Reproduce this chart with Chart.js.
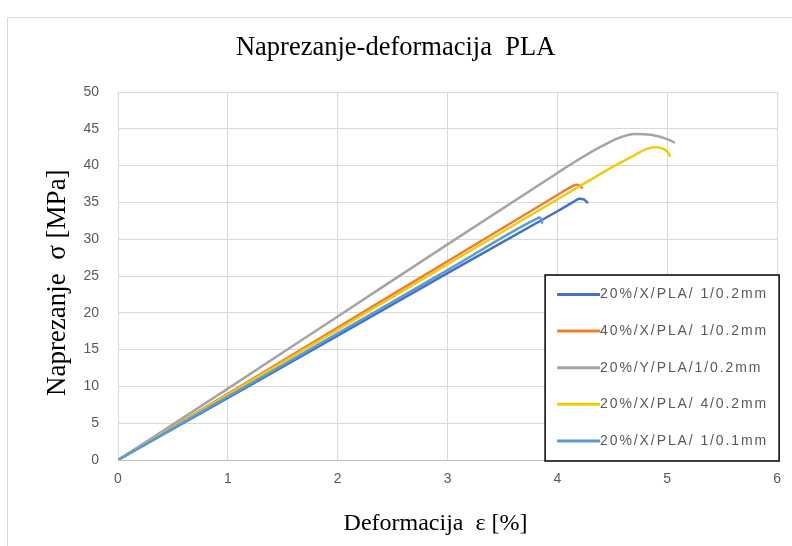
<!DOCTYPE html>
<html>
<head>
<meta charset="utf-8">
<script src="https://cdn.jsdelivr.net/npm/chart.js@4/dist/chart.umd.min.js"></script>
<style>
    html, body { margin: 0; padding: 0; background: #fff; }
    #wrap { position: relative; width: 792px; height: 546px; overflow: hidden; }
    #frame { position: absolute; left: 7px; top: 17px; width: 820px; height: 560px; border: 1px solid #d9d9d9; }
    #chart { position: absolute; left: 0; top: 0; }
</style>
</head>
<body>
<div id="wrap">
    <div id="frame"></div>
    <canvas id="chart" width="792" height="546"></canvas>
</div>
<script>
// 图例名称
const seriesLabels = [
    '20%/X/PLA/ 1/0.2mm',
    '40%/X/PLA/ 1/0.2mm',
    '20%/Y/PLA/1/0.2mm',
    '20%/X/PLA/ 4/0.2mm',
    '20%/X/PLA/ 1/0.1mm'
];
const seriesColors = ['#4472c4', '#ed7d31', '#a5a5a5', '#f2cc0c', '#5b9bd5'];

// 各曲线：应变 ε [%] 与应力 σ [MPa]
const strainX1_02 = [0, 1, 2, 3, 4, 4.15, 4.2, 4.24, 4.28];
const stressX1_02 = [0, 8.45, 16.9, 25.4, 33.8, 35.1, 35.5, 35.4, 34.9];

const strainX40 = [0, 1, 2, 3, 4, 4.1, 4.17, 4.2, 4.23];
const stressX40 = [0, 9.0, 18.0, 27.0, 36.0, 36.9, 37.4, 37.3, 36.9];

const strainY = [0, 1, 2, 3, 4, 4.2, 4.4, 4.55, 4.7, 4.85, 5.0, 5.07];
const stressY = [0, 9.7, 19.5, 29.3, 39.0, 40.9, 42.6, 43.7, 44.3, 44.2, 43.6, 43.1];

const strainX4 = [0, 1, 2, 3, 4, 4.5, 4.7, 4.82, 4.9, 4.96, 5.0, 5.03];
const stressX4 = [0, 8.85, 17.7, 26.6, 35.4, 39.8, 41.4, 42.3, 42.5, 42.3, 41.9, 41.2];

const strainX1_01 = [0, 1, 2, 3, 3.8, 3.84, 3.86, 3.86];
const stressX1_01 = [0, 8.6, 17.2, 25.8, 32.7, 32.95, 32.6, 32.1];

const xTicks = [0, 1, 2, 3, 4, 5, 6];
const yTicks = [0, 5, 10, 15, 20, 25, 30, 35, 40, 45, 50];

const curves = [
    [strainX1_02, stressX1_02],
    [strainX40, stressX40],
    [strainY, stressY],
    [strainX4, stressX4],
    [strainX1_01, stressX1_01]
];

const toPoints = (xs, ys) => xs.map((x, i) => ({ x: x, y: ys[i] }));

const datasets = curves.map((c, i) => ({
    label: seriesLabels[i],
    data: toPoints(c[0], c[1]),
    borderColor: seriesColors[i],
    backgroundColor: seriesColors[i],
    borderWidth: 2.5,
    showLine: true,
    pointRadius: 0,
    cubicInterpolationMode: 'monotone',
    order: curves.length - i
}));

// 图内图例（带黑框）
const boxLegend = {
    id: 'boxLegend',
    afterDraw(chart) {
        const ctx = chart.ctx;
        const area = chart.chartArea;
        const right = area.right + 2, bottom = area.bottom + 1;
        const w = 234, h = 186;
        const left = right - w, top = bottom - h;
        ctx.save();
        ctx.fillStyle = '#fff';
        ctx.fillRect(left, top, w, h);
        ctx.strokeStyle = '#000';
        ctx.lineWidth = 1.5;
        ctx.strokeRect(left, top, w, h);
        ctx.font = '14px "Liberation Sans"';
        ctx.letterSpacing = '1.9px';
        ctx.textBaseline = 'middle';
        ctx.fillStyle = '#595959';
        chart.data.datasets.forEach((ds, i) => {
            const y = top + 19.5 + i * 36.6;
            ctx.strokeStyle = ds.borderColor;
            ctx.lineWidth = 3;
            ctx.beginPath();
            ctx.moveTo(left + 12, y);
            ctx.lineTo(left + 55, y);
            ctx.stroke();
            ctx.fillText(ds.label, left + 55, y);
        });
        ctx.restore();
    }
};

new Chart(document.getElementById('chart'), {
    type: 'scatter',
    data: { datasets: datasets },
    plugins: [boxLegend],
    options: {
        responsive: false,
        animation: false,
        layout: { padding: { left: 0, right: 14, top: 0, bottom: 0 } },
        plugins: {
            legend: { display: false },
            tooltip: { enabled: false },
            title: {
                display: true,
                // 前导空格让标题略微右移
                text: '  Naprezanje-deformacija  PLA',
                color: '#000',
                font: { family: '"Liberation Serif"', size: 26.5, weight: 'normal' },
                padding: { top: 32, bottom: 28.2 }
            }
        },
        scales: {
            x: {
                type: 'linear',
                min: 0,
                max: 6,
                afterBuildTicks: s => { s.ticks = xTicks.map(v => ({ value: v })); },
                afterFit: s => { s.height = 86; },
                grid: { color: '#d9d9d9', drawTicks: false },
                border: { color: '#bfbfbf' },
                ticks: { color: '#595959', padding: 11, font: { family: '"Liberation Sans"', size: 14 } },
                title: {
                    display: true,
                    // 末尾空格让标题略微左移，与原图对齐
                    text: 'Deformacija  ε [%]    ',
                    color: '#000',
                    font: { family: '"Liberation Serif"', size: 24 },
                    padding: { top: 0, bottom: 8 }
                }
            },
            y: {
                type: 'linear',
                min: 0,
                max: 50,
                afterBuildTicks: s => { s.ticks = yTicks.map(v => ({ value: v })); },
                afterFit: s => { s.width = 118; },
                grid: { color: '#d9d9d9', drawTicks: false },
                border: { color: '#d9d9d9' },
                ticks: { color: '#595959', padding: 19, font: { family: '"Liberation Sans"', size: 14 } },
                title: {
                    display: true,
                    text: 'Naprezanje  σ [MPa]  ',
                    color: '#000',
                    font: { family: '"Liberation Serif"', size: 27 },
                    padding: { top: 42, bottom: 0 }
                }
            }
        }
    }
});
</script>
</body>
</html>
